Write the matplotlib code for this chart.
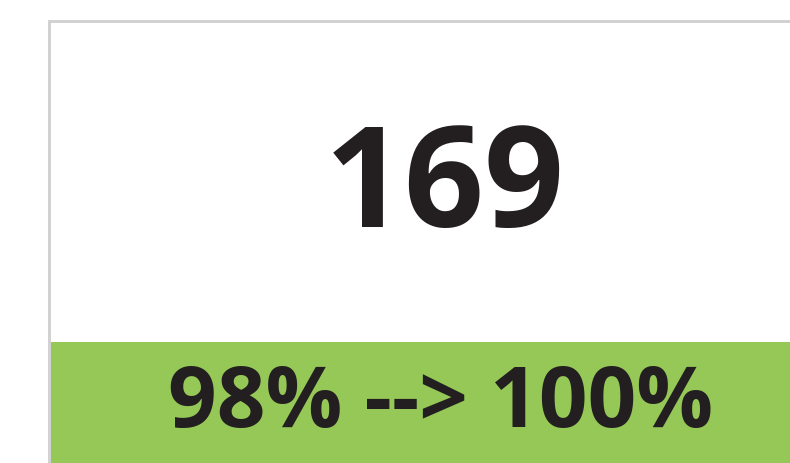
import matplotlib
matplotlib.use('Agg')
import matplotlib.pyplot as plt
from matplotlib.patches import Rectangle

# KPI card values
kpi_value = "169"
kpi_change = "98% --> 100%"

W, H = 790, 464
fig = plt.figure(figsize=(W / 100, H / 100), dpi=100)
ax = fig.add_axes([0, 0, 1, 1])
ax.set_xlim(0, W)
ax.set_ylim(H, 0)
ax.axis('off')

border = '#d2d2d2'
green = '#95c857'
ink = '#231f20'

# card frame (left and top edges visible)
ax.add_patch(Rectangle((48, 21), 3, H - 21, color=border, lw=0))
ax.add_patch(Rectangle((48, 21), W - 48, 3, color=border, lw=0))
# green status band
ax.add_patch(Rectangle((51, 343), W - 51, H - 343, color=green, lw=0))

ax.text(445, 227, kpi_value, ha='center', va='baseline', fontsize=101,
        fontweight='bold', family='Open Sans', color=ink)
ax.text(441, 427, kpi_change, ha='center', va='baseline', fontsize=61.5,
        fontweight='bold', family='Open Sans', color=ink)

fig.savefig('out.png', dpi=100)
